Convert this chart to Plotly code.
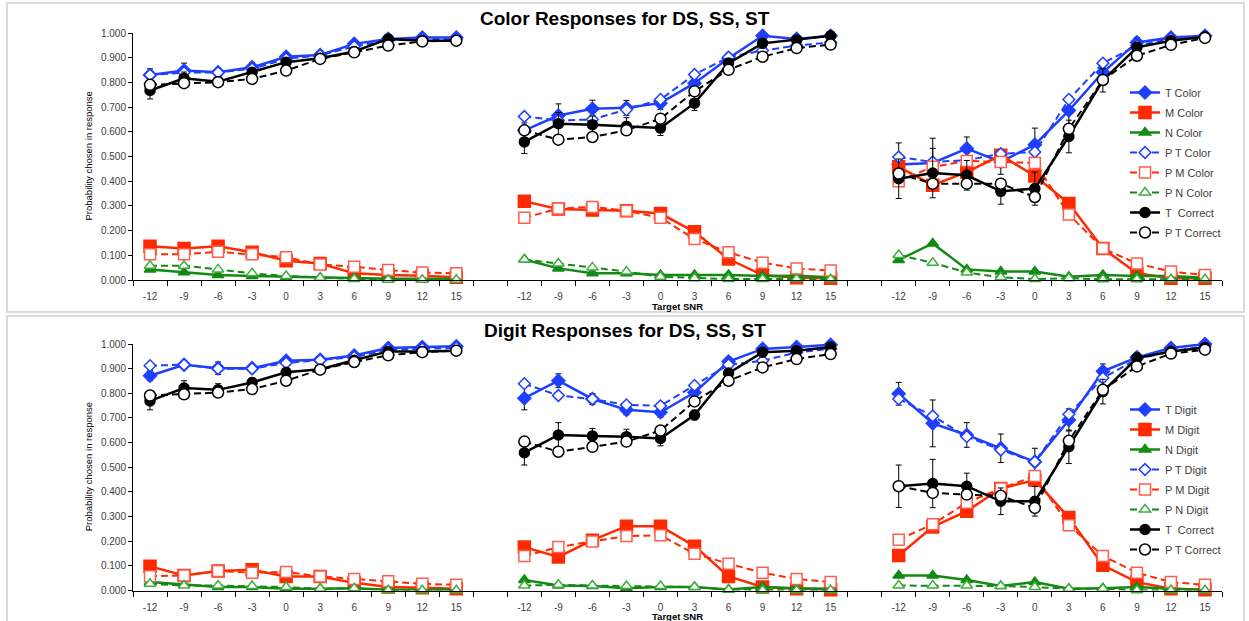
import plotly.graph_objects as go

# ---------------- data ----------------
snr = [-12, -9, -6, -3, 0, 3, 6, 9, 12, 15]
groups = ["DS", "SS", "ST"]

# Color responses
color_T_DS = [0.830, 0.848, 0.841, 0.861, 0.904, 0.911, 0.956, 0.976, 0.982, 0.982]
color_T_SS = [0.606, 0.666, 0.693, 0.697, 0.716, 0.797, 0.898, 0.989, 0.976, 0.989]
color_T_ST = [0.468, 0.474, 0.532, 0.478, 0.548, 0.686, 0.841, 0.962, 0.982, 0.989]
color_M_DS = [0.137, 0.128, 0.137, 0.112, 0.078, 0.067, 0.027, 0.020, 0.017, 0.011]
color_M_SS = [0.319, 0.287, 0.283, 0.280, 0.269, 0.195, 0.085, 0.020, 0.009, 0.007]
color_M_ST = [0.458, 0.384, 0.437, 0.505, 0.421, 0.310, 0.128, 0.027, 0.007, 0.007]
color_N_DS = [0.043, 0.031, 0.020, 0.016, 0.013, 0.009, 0.009, 0.005, 0.005, 0.004]
color_N_SS = [0.083, 0.047, 0.027, 0.027, 0.020, 0.020, 0.020, 0.016, 0.017, 0.011]
color_N_ST = [0.081, 0.148, 0.043, 0.034, 0.034, 0.013, 0.020, 0.016, 0.016, 0.009]
color_PT_DS = [0.830, 0.840, 0.840, 0.855, 0.895, 0.910, 0.945, 0.970, 0.975, 0.975]
color_PT_SS = [0.662, 0.646, 0.650, 0.689, 0.731, 0.832, 0.902, 0.929, 0.949, 0.962]
color_PT_ST = [0.498, 0.478, 0.485, 0.511, 0.518, 0.731, 0.878, 0.949, 0.976, 0.985]
color_PM_DS = [0.104, 0.104, 0.114, 0.104, 0.092, 0.063, 0.054, 0.040, 0.030, 0.027]
color_PM_SS = [0.252, 0.289, 0.296, 0.280, 0.252, 0.166, 0.112, 0.070, 0.047, 0.038]
color_PM_ST = [0.400, 0.458, 0.482, 0.478, 0.474, 0.265, 0.128, 0.067, 0.034, 0.020]
color_PN_DS = [0.058, 0.058, 0.043, 0.027, 0.016, 0.009, 0.004, 0.001, 0.001, 0.001]
color_PN_SS = [0.083, 0.067, 0.051, 0.034, 0.013, 0.007, 0.004, 0.004, 0.004, 0.003]
color_PN_ST = [0.101, 0.070, 0.030, 0.011, 0.004, 0.007, 0.003, 0.003, 0.003, 0.003]
color_TC_DS = [0.767, 0.817, 0.803, 0.841, 0.882, 0.898, 0.925, 0.976, 0.969, 0.969]
color_TC_SS = [0.559, 0.633, 0.629, 0.622, 0.615, 0.716, 0.878, 0.958, 0.972, 0.989]
color_TC_ST = [0.410, 0.433, 0.424, 0.359, 0.370, 0.581, 0.808, 0.942, 0.969, 0.985]
color_PTC_DS = [0.790, 0.797, 0.801, 0.814, 0.848, 0.895, 0.922, 0.949, 0.966, 0.969]
color_PTC_SS = [0.606, 0.568, 0.579, 0.606, 0.653, 0.764, 0.851, 0.904, 0.939, 0.953]
color_PTC_ST = [0.431, 0.390, 0.390, 0.390, 0.336, 0.612, 0.810, 0.908, 0.952, 0.980]
# error bars (T and T Correct)
color_T_err_DS = [0.025, 0.030, 0.012, 0.020, 0.012, 0.010, 0.008, 0.006, 0.005, 0.004]
color_T_err_SS = [0.030, 0.047, 0.035, 0.030, 0.025, 0.025, 0.020, 0.008, 0.006, 0.005]
color_T_err_ST = [0.087, 0.100, 0.047, 0.050, 0.067, 0.060, 0.040, 0.020, 0.010, 0.006]
color_TC_err_DS = [0.034, 0.025, 0.015, 0.015, 0.012, 0.010, 0.010, 0.006, 0.005, 0.004]
color_TC_err_SS = [0.047, 0.045, 0.035, 0.035, 0.030, 0.030, 0.020, 0.010, 0.006, 0.005]
color_TC_err_ST = [0.080, 0.100, 0.060, 0.052, 0.067, 0.066, 0.047, 0.020, 0.010, 0.006]

# Digit responses
digit_T_DS = [0.871, 0.916, 0.902, 0.902, 0.932, 0.936, 0.953, 0.984, 0.988, 0.991]
digit_T_SS = [0.780, 0.851, 0.777, 0.733, 0.723, 0.803, 0.929, 0.980, 0.988, 0.997]
digit_T_ST = [0.798, 0.678, 0.631, 0.577, 0.522, 0.692, 0.889, 0.946, 0.984, 1.000]
digit_M_DS = [0.098, 0.061, 0.079, 0.084, 0.057, 0.057, 0.031, 0.014, 0.011, 0.007]
digit_M_SS = [0.176, 0.136, 0.204, 0.261, 0.261, 0.180, 0.057, 0.014, 0.007, 0.003]
digit_M_ST = [0.142, 0.258, 0.322, 0.414, 0.448, 0.296, 0.102, 0.034, 0.007, 0.003]
digit_N_DS = [0.034, 0.024, 0.014, 0.014, 0.007, 0.007, 0.009, 0.003, 0.003, 0.003]
digit_N_SS = [0.043, 0.020, 0.018, 0.009, 0.014, 0.014, 0.004, 0.014, 0.009, 0.007]
digit_N_ST = [0.061, 0.061, 0.043, 0.018, 0.034, 0.007, 0.009, 0.014, 0.007, 0.003]
digit_PT_DS = [0.912, 0.916, 0.900, 0.900, 0.923, 0.934, 0.947, 0.977, 0.980, 0.984]
digit_PT_SS = [0.839, 0.791, 0.777, 0.753, 0.749, 0.832, 0.916, 0.932, 0.966, 0.980]
digit_PT_ST = [0.777, 0.708, 0.624, 0.570, 0.522, 0.715, 0.862, 0.939, 0.970, 0.991]
digit_PM_DS = [0.058, 0.061, 0.079, 0.072, 0.075, 0.057, 0.047, 0.038, 0.027, 0.023]
digit_PM_SS = [0.140, 0.176, 0.199, 0.221, 0.224, 0.149, 0.109, 0.072, 0.047, 0.034]
digit_PM_ST = [0.206, 0.269, 0.356, 0.414, 0.464, 0.265, 0.140, 0.072, 0.034, 0.023]
digit_PN_DS = [0.027, 0.020, 0.020, 0.018, 0.014, 0.007, 0.009, 0.001, 0.001, 0.001]
digit_PN_SS = [0.020, 0.023, 0.020, 0.018, 0.018, 0.014, 0.003, 0.001, 0.001, 0.001]
digit_PN_ST = [0.020, 0.020, 0.020, 0.018, 0.014, 0.007, 0.007, 0.001, 0.001, 0.001]
digit_TC_DS = [0.769, 0.821, 0.814, 0.844, 0.885, 0.898, 0.934, 0.970, 0.970, 0.973]
digit_TC_SS = [0.559, 0.631, 0.627, 0.624, 0.617, 0.712, 0.882, 0.967, 0.973, 0.988]
digit_TC_ST = [0.423, 0.434, 0.423, 0.362, 0.362, 0.583, 0.807, 0.943, 0.970, 0.986]
digit_PTC_DS = [0.791, 0.796, 0.803, 0.817, 0.851, 0.896, 0.927, 0.954, 0.967, 0.973]
digit_PTC_SS = [0.604, 0.563, 0.583, 0.604, 0.649, 0.767, 0.851, 0.905, 0.939, 0.959]
digit_PTC_ST = [0.423, 0.396, 0.389, 0.384, 0.335, 0.607, 0.814, 0.909, 0.961, 0.977]
digit_T_err_DS = [0.020, 0.012, 0.025, 0.012, 0.012, 0.010, 0.008, 0.006, 0.005, 0.004]
digit_T_err_SS = [0.047, 0.028, 0.022, 0.020, 0.020, 0.020, 0.015, 0.008, 0.006, 0.005]
digit_T_err_ST = [0.046, 0.095, 0.050, 0.058, 0.055, 0.045, 0.030, 0.015, 0.008, 0.005]
digit_TC_err_DS = [0.036, 0.030, 0.025, 0.018, 0.015, 0.012, 0.010, 0.006, 0.005, 0.004]
digit_TC_err_SS = [0.050, 0.050, 0.030, 0.030, 0.030, 0.020, 0.015, 0.008, 0.006, 0.005]
digit_TC_err_ST = [0.086, 0.098, 0.053, 0.054, 0.060, 0.068, 0.050, 0.020, 0.010, 0.006]

# ---------------- styling ----------------
W, H = 1249, 621
ML, MR = 133, 27
PW = W - ML - MR

def fx(px):
    return (px - ML) / PW

def fy(py):
    return 1 - py / H

BLUE = "#1f3fff"
RED = "#ff2a00"
RED_L = "#ff5e4d"
GREEN = "#138a13"
GREEN_L = "#3fae3f"
BLACK = "#000000"
TXT = "#404040"
FONT = "Liberation Sans"

def positions():
    xs = []
    for g in range(len(groups)):
        xs += [g * 11 + i for i in range(len(snr))] + [None]
    return xs

def join(lists, gap=None):
    out = []
    for l in lists:
        out += list(l) + [gap]
    return out

series_color = [
    ("T Color", [color_T_DS, color_T_SS, color_T_ST], [color_T_err_DS, color_T_err_SS, color_T_err_ST]),
    ("M Color", [color_M_DS, color_M_SS, color_M_ST], None),
    ("N Color", [color_N_DS, color_N_SS, color_N_ST], None),
    ("P T Color", [color_PT_DS, color_PT_SS, color_PT_ST], None),
    ("P M Color", [color_PM_DS, color_PM_SS, color_PM_ST], None),
    ("P N Color", [color_PN_DS, color_PN_SS, color_PN_ST], None),
    ("T\u00a0 Correct", [color_TC_DS, color_TC_SS, color_TC_ST], [color_TC_err_DS, color_TC_err_SS, color_TC_err_ST]),
    ("P T Correct", [color_PTC_DS, color_PTC_SS, color_PTC_ST], None),
]
series_digit = [
    ("T Digit", [digit_T_DS, digit_T_SS, digit_T_ST], [digit_T_err_DS, digit_T_err_SS, digit_T_err_ST]),
    ("M Digit", [digit_M_DS, digit_M_SS, digit_M_ST], None),
    ("N Digit", [digit_N_DS, digit_N_SS, digit_N_ST], None),
    ("P T Digit", [digit_PT_DS, digit_PT_SS, digit_PT_ST], None),
    ("P M Digit", [digit_PM_DS, digit_PM_SS, digit_PM_ST], None),
    ("P N Digit", [digit_PN_DS, digit_PN_SS, digit_PN_ST], None),
    ("T\u00a0 Correct", [digit_TC_DS, digit_TC_SS, digit_TC_ST], [digit_TC_err_DS, digit_TC_err_SS, digit_TC_err_ST]),
    ("P T Correct", [digit_PTC_DS, digit_PTC_SS, digit_PTC_ST], None),
]

# (line colour, dash, symbol, size, fill, edge colour)
styles = [
    (BLUE, "solid", "diamond", 10, BLUE, BLUE),
    (RED, "solid", "square", 12, RED, RED),
    (GREEN, "solid", "triangle-up", 10, GREEN, GREEN),
    (BLUE, "7px,4px", "diamond", 9, "white", BLUE),
    (RED, "7px,4px", "square", 11, "white", RED_L),
    (GREEN, "7px,4px", "triangle-up", 10, "white", GREEN_L),
    (BLACK, "solid", "circle", 10, BLACK, BLACK),
    (BLACK, "7px,4px", "circle", 11, "white", BLACK),
]

fig = go.Figure()
xs = positions()
for panel, (series, xa, ya, lg) in enumerate([(series_color, "x", "y", "legend"), (series_digit, "x2", "y2", "legend2")]):
    for (name, vals, errs), (lc, dash, sym, sz, fill, edge) in zip(series, styles):
        err = None
        if errs is not None:
            err = dict(type="data", array=join(errs, 0), color="black", thickness=1, width=3)
        fig.add_trace(go.Scatter(
            x=xs, y=join(vals), name=name, mode="lines+markers",
            xaxis=xa, yaxis=ya, legend=lg, legendgroup=f"{panel}-{name}",
            connectgaps=False, cliponaxis=False,
            line=dict(color=lc, width=2.5 if dash == "solid" else 2, dash=dash),
            marker=dict(symbol=sym, size=sz, color=fill, line=dict(color=edge, width=1.5)),
            error_y=err,
        ))

tickpos = [g * 11 + i for g in range(len(groups)) for i in range(len(snr))]
ticklab = [str(s) for _ in groups for s in snr]
ncat = len(groups) * 11 - 1
xcommon = dict(
    range=[-0.5, ncat - 0.5], tickmode="array", tickvals=tickpos, ticktext=ticklab,
    ticks="outside", ticklen=7, tickcolor="rgba(0,0,0,0)",
    showline=True, linecolor="black", linewidth=1, showgrid=False, zeroline=False,
    tickfont=dict(family=FONT, size=10, color=TXT),
    minor=dict(tickmode="array", tickvals=[k - 0.5 for k in range(ncat + 1)], ticks="outside",
               ticklen=5, tickcolor="black", tickwidth=1, showgrid=False),
)
ycommon = dict(
    range=[0, 1], tick0=0, dtick=0.1, tickformat=".3f", ticks="outside", ticklen=4,
    tickcolor="black", showline=True, linecolor="black", linewidth=1,
    showgrid=False, zeroline=False, tickfont=dict(family=FONT, size=10, color=TXT),
)

legcommon = dict(
    xanchor="left", yanchor="top", bgcolor="rgba(0,0,0,0)", tracegroupgap=1,
    font=dict(family=FONT, size=11, color=TXT), itemclick=False,
)

ann = []
for title, ty, ytop, ybot, xlab_y in [
    ("Color Responses for DS, SS, ST", 18, 33, 280, 306),
    ("Digit Responses for DS, SS, ST", 330, 344, 590.5, 616),
]:
    ann.append(dict(text=f"<b>{title}</b>", x=fx(625), y=fy(ty), xref="paper", yref="paper",
                    xanchor="center", yanchor="middle", showarrow=False,
                    font=dict(family=FONT, size=19, color="black")))
    ann.append(dict(text="Probability chosen in response", x=fx(88), y=fy((ytop + ybot) / 2),
                    xref="paper", yref="paper", xanchor="center", yanchor="middle",
                    showarrow=False, textangle=-90,
                    font=dict(family=FONT, size=9.5, color="black")))
    ann.append(dict(text="<b>Target SNR</b>", x=fx(677), y=fy(xlab_y), xref="paper", yref="paper",
                    xanchor="center", yanchor="middle", showarrow=False,
                    font=dict(family=FONT, size=9.5, color="black")))

shapes = []
for y0, y1 in [(3, 312), (316, 626)]:
    shapes.append(dict(type="rect", xref="paper", yref="paper", x0=fx(7), x1=fx(1244),
                       y0=fy(y1), y1=fy(y0), line=dict(color="#cfcfcf", width=1.5),
                       fillcolor="rgba(0,0,0,0)", layer="below"))

fig.update_layout(
    width=W, height=H, margin=dict(l=ML, r=MR, t=0, b=0, autoexpand=False),
    paper_bgcolor="white", plot_bgcolor="white", showlegend=True,
    xaxis=dict(xcommon, anchor="y"),
    yaxis=dict(ycommon, domain=[fy(280), fy(33)], anchor="x"),
    xaxis2=dict(xcommon, anchor="y2"),
    yaxis2=dict(ycommon, domain=[fy(590.5), fy(344)], anchor="x2"),
    legend=dict(legcommon, x=fx(1125), y=fy(78)),
    legend2=dict(legcommon, x=fx(1125), y=fy(395)),
    annotations=ann, shapes=shapes,
)

fig.write_html("out.html")
